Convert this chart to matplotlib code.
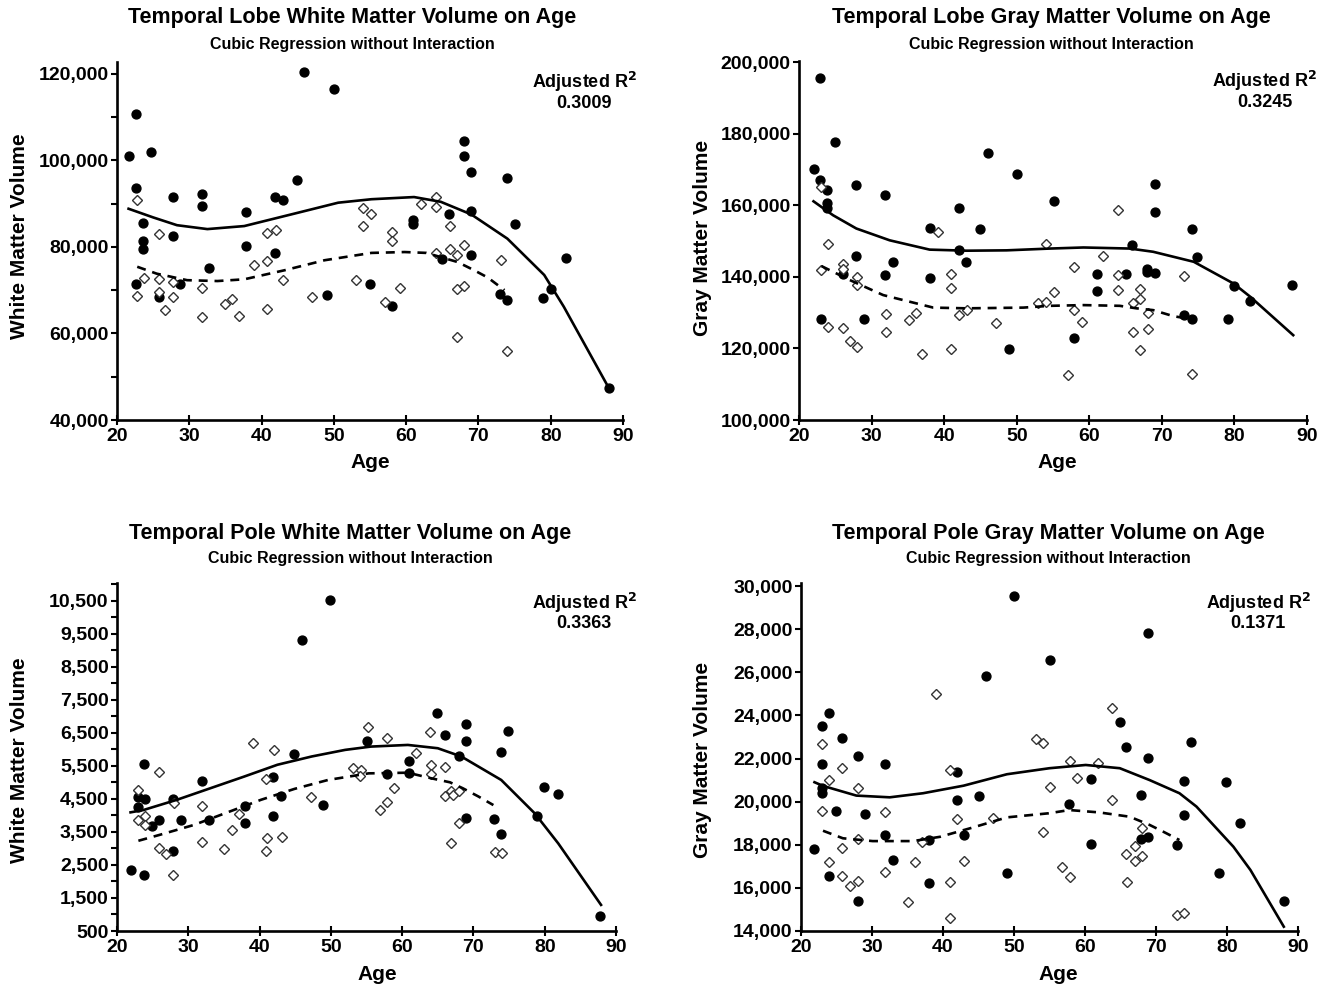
import matplotlib
matplotlib.use("Agg")
from matplotlib import pyplot as plt
from matplotlib.ticker import FuncFormatter, MultipleLocator

# ---- Temporal lobe white matter ----
tlw_fill_age = [21.6, 22.6, 24.7, 22.6, 23.6, 23.6, 23.6, 22.6, 25.8, 27.7, 27.7, 28.7, 31.8, 31.8,
                32.7, 37.8, 37.8, 41.8, 43.0, 41.8, 44.9, 45.9, 50.0, 49.0, 55.0, 58.0, 61.0, 61.0,
                65.0, 65.9, 68.0, 68.0, 69.0, 69.0, 69.0, 73.0, 74.0, 74.0, 75.0, 79.0, 80.0, 82.1, 88.0]
tlw_fill_vol = [101100, 110600, 101800, 93500, 85600, 81300, 79400, 71400, 68300, 91600, 82400, 71500,
                92100, 89400, 75000, 88000, 80200, 91600, 90900, 78600, 95500, 120500, 116400, 68900,
                71400, 66400, 86200, 85200, 77100, 87500, 104400, 101100, 97200, 88300, 78100, 69200,
                67800, 95800, 85200, 68200, 70200, 77400, 47500]
tlw_open_age = [22.7, 25.8, 23.7, 25.8, 27.7, 22.7, 25.8, 27.7, 26.7, 31.8, 31.8, 34.9, 35.9, 36.9,
                39.0, 40.8, 42.0, 40.8, 43.0, 40.8, 47.0, 53.1, 54.1, 55.1, 54.1, 57.1, 58.0, 58.0,
                59.1, 62.0, 64.1, 64.1, 64.1, 66.0, 66.0, 67.0, 67.0, 67.0, 68.0, 68.0, 73.1, 74.0]
tlw_open_vol = [90800, 82900, 72700, 72600, 71900, 68700, 69500, 68500, 65300, 70400, 63700, 66900,
                68000, 64000, 75800, 83100, 83800, 76700, 72400, 65700, 68500, 72400, 89000, 87500,
                84800, 67200, 83500, 81400, 70400, 90000, 91400, 89200, 78600, 84800, 79600, 78100,
                70200, 59100, 80500, 71000, 76900, 56000]
tlw_fit1_age = [21.6, 25.0, 28.3, 32.5, 37.6, 44.6, 50.6, 55.2, 61.1, 64.8, 69.0, 74.0, 79.1, 81.8, 88.0]
tlw_fit1_vol = [88800, 86800, 85000, 84100, 84800, 87700, 90200, 91000, 91500, 90400, 87500, 81900,
                73500, 66200, 47500]
tlw_fit2_age = [22.8, 25.5, 29.7, 33.9, 37.6, 43.2, 48.7, 55.2, 59.8, 62.8, 67.1, 69.4, 71.3, 73.6]
tlw_fit2_vol = [75400, 73800, 72300, 72100, 72500, 74600, 76900, 78600, 78800, 78600, 76500, 74600,
                72900, 70000]

# ---- Temporal lobe gray matter ----
tlg_fill_age = [22.9, 25.0, 22.0, 22.9, 23.9, 23.9, 23.9, 27.9, 31.9, 27.9, 26.0, 31.9, 33.0, 23.0,
                29.0, 38.0, 38.0, 42.0, 42.0, 43.0, 44.9, 46.0, 50.0, 48.9, 55.1, 69.0, 69.0, 74.1,
                74.9, 65.9, 61.0, 65.0, 67.9, 67.9, 69.0, 61.0, 80.0, 82.1, 88.0, 57.9, 73.0, 74.1, 79.1]
tlg_fill_vol = [195600, 177600, 170200, 167100, 164300, 160500, 159100, 165600, 162800, 145700, 140700,
                140500, 144200, 128300, 128300, 153600, 139700, 159300, 147500, 144200, 153300, 174700,
                168700, 119800, 161100, 165900, 158000, 153300, 145500, 148900, 140700, 140700, 142200,
                141400, 141000, 136000, 137500, 133300, 137700, 122800, 129200, 128300, 128300]
tlg_open_age = [23.0, 24.0, 23.0, 26.0, 26.0, 28.0, 28.0, 24.0, 26.0, 27.0, 28.0, 32.0, 32.0, 35.1,
                36.1, 37.0, 39.1, 41.0, 41.0, 42.0, 43.1, 41.0, 47.1, 53.0, 54.0, 55.1, 54.0, 57.9,
                61.9, 57.9, 59.0, 57.1, 64.0, 64.0, 64.0, 67.0, 67.0, 66.0, 68.1, 66.0, 68.1, 67.0,
                73.1, 74.1]
tlg_open_vol = [165000, 149300, 141900, 143500, 142300, 139900, 137600, 126000, 125600, 122100, 120500,
                129700, 124500, 128000, 130000, 118300, 152600, 140700, 137000, 129200, 130600, 119800,
                127200, 132800, 133100, 135800, 149300, 142800, 145900, 130700, 127400, 112600, 158600,
                140500, 136300, 136500, 133700, 132600, 130000, 124700, 125300, 119500, 140200, 112800]
tlg_fit1_age = [22.0, 24.7, 27.9, 32.5, 38.0, 43.1, 48.6, 54.6, 59.2, 65.6, 68.8, 74.4, 79.9, 82.2, 88.1]
tlg_fit1_vol = [161100, 157200, 153500, 150200, 147600, 147300, 147400, 147900, 148200, 147900, 147000,
                144200, 138100, 134400, 123700]
tlg_fit2_age = [23.1, 27.0, 31.6, 38.5, 43.1, 50.9, 54.6, 59.2, 64.2, 66.5, 68.8, 71.6, 72.8]
tlg_fit2_vol = [143000, 139100, 134900, 131400, 131200, 131400, 131900, 132100, 131900, 131200, 130700,
                129000, 128600]

# ---- Temporal pole white matter ----
tpw_fill_age = [49.9, 45.9, 23.8, 55.0, 44.8, 31.9, 41.9, 43.0, 23.0, 23.0, 23.9, 27.9, 24.9, 25.9,
                29.0, 32.9, 38.0, 38.0, 41.9, 48.9, 27.9, 22.0, 23.8, 64.9, 69.0, 66.0, 69.0, 74.9,
                68.0, 73.9, 61.0, 61.0, 57.9, 79.9, 81.9, 78.9, 69.0, 72.9, 73.9, 87.8]
tpw_fill_vol = [10520, 9320, 5550, 6260, 5850, 5050, 5160, 4590, 4560, 4260, 4490, 4490, 3690, 3850,
                3860, 3850, 4280, 3760, 3980, 4310, 2920, 2350, 2190, 7110, 6760, 6420, 6250, 6560,
                5810, 5910, 5630, 5290, 5250, 4870, 4650, 3990, 3910, 3880, 3440, 950]
tpw_open_age = [23.0, 23.9, 23.0, 23.9, 25.9, 28.0, 25.9, 26.9, 27.9, 31.9, 31.9, 35.0, 36.1, 37.1,
                39.1, 40.9, 42.0, 41.0, 40.9, 43.1, 47.2, 53.1, 54.2, 54.1, 55.2, 56.9, 57.9, 58.9,
                57.9, 62.0, 63.9, 64.0, 64.0, 66.0, 66.0, 66.9, 67.1, 68.0, 68.0, 66.9, 73.0, 74.0]
tpw_open_vol = [4760, 3980, 3870, 3700, 5310, 4380, 3020, 2830, 2180, 4280, 3180, 2970, 3570, 4030,
                6190, 5110, 5990, 3300, 2920, 3340, 4540, 5440, 5360, 5180, 6660, 4160, 6330, 4820,
                4390, 5880, 6510, 5530, 5250, 5450, 4590, 4740, 4620, 4730, 3760, 3150, 2900, 2870]
tpw_fit1_age = [21.9, 23.7, 28.4, 33.1, 37.8, 42.5, 47.3, 52.0, 55.6, 60.8, 65.0, 68.3, 73.9, 78.6, 81.9, 87.9]
tpw_fit1_vol = [4090, 4160, 4470, 4820, 5170, 5530, 5780, 5980, 6080, 6130, 6030, 5780, 5070, 4060,
                3150, 1290]
tpw_fit2_age = [23.0, 26.0, 30.8, 35.5, 40.2, 44.9, 49.6, 55.3, 60.8, 64.1, 66.7, 68.5, 70.7, 72.8]
tpw_fit2_vol = [3230, 3410, 3710, 4090, 4470, 4800, 5070, 5270, 5290, 5120, 5000, 4820, 4570, 4310]

# ---- Temporal pole gray matter ----
tpg_fill_age = [50.0, 55.0, 46.1, 23.9, 22.9, 25.8, 28.0, 31.9, 22.9, 22.9, 22.9, 42.0, 42.0, 24.9,
                29.0, 45.0, 31.9, 42.9, 38.0, 21.9, 32.9, 23.9, 38.0, 49.0, 28.0, 68.9, 64.9, 65.8,
                74.9, 68.9, 60.8, 73.9, 79.9, 67.9, 57.8, 73.9, 81.9, 68.9, 67.9, 60.8, 72.9, 78.9, 88.0]
tpg_fill_vol = [29550, 26550, 25830, 24130, 23490, 22950, 22120, 21730, 21730, 20620, 20380, 21360,
                20060, 19570, 19430, 20260, 18470, 18470, 18220, 17790, 17290, 16550, 16210, 16670,
                15410, 27840, 23710, 22550, 22780, 22010, 21030, 20940, 20900, 20310, 19890, 19380,
                19020, 18380, 18250, 18050, 17970, 16670, 15380]
tpg_open_age = [22.9, 23.9, 22.9, 25.8, 28.0, 28.0, 23.9, 25.8, 26.9, 28.0, 25.8, 31.9, 31.9, 35.0,
                36.0, 37.0, 39.0, 41.0, 42.0, 41.0, 41.0, 43.0, 47.1, 53.1, 54.1, 54.1, 55.1, 56.8,
                57.9, 61.9, 58.9, 63.8, 63.8, 68.0, 67.0, 65.8, 67.0, 68.0, 57.9, 65.9, 73.0, 74.0]
tpg_open_vol = [22690, 21000, 19580, 21580, 20620, 18250, 17180, 16570, 16100, 16320, 17830, 19500,
                16720, 15360, 17180, 18140, 24980, 21470, 19180, 16290, 14590, 17250, 19240, 22920,
                22700, 18610, 20690, 16950, 21880, 21810, 21080, 24360, 20090, 18790, 17960, 17570,
                17250, 17460, 16490, 16270, 14730, 14850]
tpg_fit1_age = [21.9, 23.1, 27.8, 32.5, 37.2, 42.9, 49.0, 55.0, 60.1, 64.9, 69.1, 73.3, 75.7, 80.9, 83.3, 88.0]
tpg_fit1_vol = [20900, 20730, 20280, 20200, 20390, 20740, 21270, 21550, 21700, 21550, 21000, 20390,
                19770, 17910, 16830, 14200]
tpg_fit2_age = [23.1, 25.9, 30.1, 35.8, 39.6, 44.3, 49.0, 54.9, 57.8, 62.0, 66.3, 69.1, 71.0, 73.3]
tpg_fit2_vol = [18650, 18300, 18170, 18170, 18370, 18810, 19270, 19460, 19610, 19500, 19300, 18920,
                18610, 18220]

titles = ["Temporal Lobe White Matter Volume on Age", "Temporal Lobe Gray Matter Volume on Age",
          "Temporal Pole White Matter Volume on Age", "Temporal Pole Gray Matter Volume on Age"]
subtitle = "Cubic Regression without Interaction"
ylabels = ["White Matter Volume", "Gray Matter Volume", "White Matter Volume", "Gray Matter Volume"]
r2_values = ["0.3009", "0.3245", "0.3363", "0.1371"]

plt.rcParams['font.family'] = ['Liberation Sans', 'DejaVu Sans']
plt.rcParams['font.weight'] = 'bold'

W, H = 1332, 990
fig = plt.figure(figsize=(W / 100, H / 100), dpi=100)


def px_axes(left, right, top, bottom):
    return fig.add_axes([left / W, 1 - bottom / H, (right - left) / W, (bottom - top) / H])


def comma(v, pos):
    return f"{int(round(v)):,}"


def draw_panel(ax, fill_age, fill_vol, open_age, open_vol, f1a, f1v, f2a, f2v,
               ylim, major, minor, r2, r2x, offset=0):
    ax.plot(fill_age, fill_vol, 'o', ms=6.4, mfc='black', mec='black', zorder=2)
    ax.plot(open_age, open_vol, 'D', ms=5.0, mfc='white', mec='#333333', mew=1.0, zorder=3)
    ax.plot(f1a, f1v, '-', color='black', lw=1.9, zorder=4)
    ax.plot(f2a, f2v, color='black', lw=1.9, dashes=(3.4, 2.6), zorder=4)
    ax.set_xlim(20, 90)
    ax.set_ylim(*ylim)
    ax.xaxis.set_major_locator(MultipleLocator(10))
    ax.yaxis.set_major_locator(MultipleLocator(major, offset=offset))
    if minor:
        ax.yaxis.set_minor_locator(MultipleLocator(minor))
    ax.yaxis.set_major_formatter(FuncFormatter(comma))
    for s in ['top', 'right']:
        ax.spines[s].set_visible(False)
    for s in ['left', 'bottom']:
        ax.spines[s].set_linewidth(1.9)
    ax.tick_params(axis='x', direction='inout', length=7, width=1.5, labelsize=14, pad=2)
    ax.tick_params(axis='y', which='both', direction='out', length=4, width=1.5, labelsize=14, pad=2)
    for lab in ax.get_xticklabels() + ax.get_yticklabels():
        lab.set_fontweight('bold')
    ax.text(r2x, 0.944, r"Adjusted R$^\mathbf{2}$", transform=ax.transAxes, ha='center', va='center',
            fontsize=13, fontweight='bold')
    ax.text(r2x, 0.885, r2, transform=ax.transAxes, ha='center', va='center',
            fontsize=13, fontweight='bold')


ax1 = px_axes(117, 623, 62, 420)
draw_panel(ax1, tlw_fill_age, tlw_fill_vol, tlw_open_age, tlw_open_vol,
           tlw_fit1_age, tlw_fit1_vol, tlw_fit2_age, tlw_fit2_vol,
           (40000, 122700), 20000, 10000, r2_values[0], 0.923)
ax2 = px_axes(799, 1307, 61, 420)
draw_panel(ax2, tlg_fill_age, tlg_fill_vol, tlg_open_age, tlg_open_vol,
           tlg_fit1_age, tlg_fit1_vol, tlg_fit2_age, tlg_fit2_vol,
           (100000, 200300), 20000, None, r2_values[1], 0.917)
ax3 = px_axes(117, 616, 583, 931)
draw_panel(ax3, tpw_fill_age, tpw_fill_vol, tpw_open_age, tpw_open_vol,
           tpw_fit1_age, tpw_fit1_vol, tpw_fit2_age, tpw_fit2_vol,
           (500, 11030), 1000, 500, r2_values[2], 0.936, offset=500)
ax4 = px_axes(801, 1298, 583, 931)
draw_panel(ax4, tpg_fill_age, tpg_fill_vol, tpg_open_age, tpg_open_vol,
           tpg_fit1_age, tpg_fit1_vol, tpg_fit2_age, tpg_fit2_vol,
           (14000, 30140), 2000, None, r2_values[3], 0.92)

# titles, subtitles, axis labels placed in pixel positions
title_pos = [(352, 18, 44), (1051, 18, 44), (350, 533, 559), (1048, 533, 559)]
ylab_pos = [(20, 236), (703, 238), (20, 760), (703, 760)]
xlab_pos = [(370, 462), (1057, 462), (377, 975), (1058, 975)]
for i in range(4):
    x, ty, sy = title_pos[i]
    fig.text(x / W, 1 - ty / H, titles[i], ha='center', va='center', fontsize=15.5, fontweight='bold')
    fig.text(x / W, 1 - sy / H, subtitle, ha='center', va='center', fontsize=11.5, fontweight='bold')
    lx, ly = ylab_pos[i]
    fig.text(lx / W, 1 - ly / H, ylabels[i], rotation=90, ha='center', va='center',
             fontsize=15, fontweight='bold')
    ax_x, ax_y = xlab_pos[i]
    fig.text(ax_x / W, 1 - ax_y / H, "Age", ha='center', va='center', fontsize=15, fontweight='bold')

fig.savefig("out.png", dpi=100)
